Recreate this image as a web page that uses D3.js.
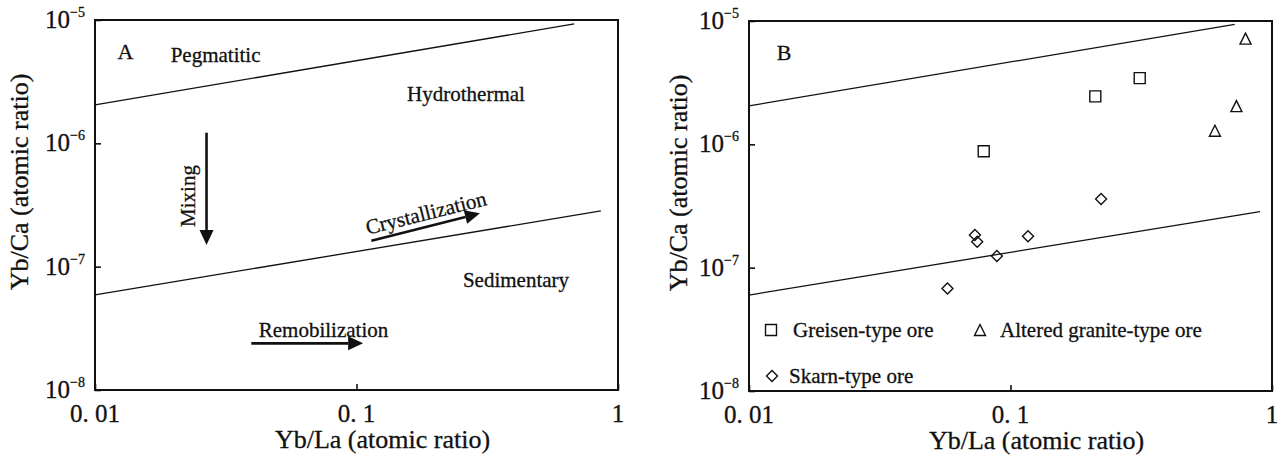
<!DOCTYPE html>
<html>
<head>
<meta charset="utf-8">
<script src="https://cdn.jsdelivr.net/npm/d3@7/dist/d3.min.js"></script>
<style>
  html, body { margin: 0; padding: 0; background: #fff; }
  svg { display: block; }
  text { font-family: "Liberation Serif", "Times New Roman", serif; fill: #111; stroke: #111; stroke-width: 0.3; }
</style>
</head>
<body>
<svg id="chart" width="1285" height="457"></svg>
<script>
// Axis ticks (log scales)
const xTickValues = [0.01, 0.1, 1];
const xTickLabels = ["0. 01", "0. 1", "1"];
const yTickValues = [1e-8, 1e-7, 1e-6, 1e-5];
const yTickExponents = ["\u22128", "\u22127", "\u22126", "\u22125"];

const xTitle = "Yb/La (atomic ratio)";
const yTitle = "Yb/Ca (atomic ratio)";

// Field boundaries (Yb/La, Yb/Ca)
const upperLineA = [[0.01, 2.05e-6], [0.68, 9.3e-6]];
const lowerLineA = [[0.01, 5.9e-8], [0.86, 2.83e-7]];
const upperLineB = [[0.01, 2.05e-6], [0.72, 9.4e-6]];
const lowerLineB = [[0.01, 6.0e-8], [0.90, 2.85e-7]];

// Process arrows in panel A: [start, end]
const mixingArrow = [[0.0267, 1.22e-6], [0.0267, 1.5e-7]];
const crystallizationArrow = [[0.114, 1.62e-7], [0.2966, 2.71e-7]];
const remobilizationArrow = [[0.0396, 2.39e-8], [0.106, 2.39e-8]];

// Samples in panel B
const greisenX = [0.079, 0.211, 0.312];
const greisenY = [8.8e-7, 2.45e-6, 3.44e-6];
const alteredX = [0.605, 0.731, 0.792];
const alteredY = [1.29e-6, 2.04e-6, 7.19e-6];
const skarnX = [0.0574, 0.0731, 0.0746, 0.0887, 0.1167, 0.222];
const skarnY = [6.78e-8, 1.84e-7, 1.62e-7, 1.245e-7, 1.795e-7, 3.6e-7];

const legendLabels = ["Greisen-type ore", "Altered granite-type ore", "Skarn-type ore"];

const svg = d3.select("#chart");
svg.append("rect").attr("width", 1285).attr("height", 457).attr("fill", "#fff");

const W = 523, H = 370;

function markerPath(kind, s) {
  const h = s / 2;
  if (kind === "square") return `M${-h},${-h}H${h}V${h}H${-h}Z`;
  if (kind === "triangle") return `M0,${-h}L${h},${h}L${-h},${h}Z`;
  return `M0,${-h}L${h},0L0,${h}L${-h},0Z`; // diamond
}

function drawPanel(ox, oy, opts) {
  const g = svg.append("g").attr("transform", `translate(${ox},${oy})`);
  const x = d3.scaleLog().domain([0.01, 1]).range([0, W]);
  const y = d3.scaleLog().domain([1e-8, 1e-5]).range([H, 0]);

  // inward ticks
  const xAxis = d3.axisBottom(x).tickValues(xTickValues).tickSize(-6).tickFormat("");
  const yAxis = d3.axisLeft(y).tickValues(yTickValues).tickSize(-6).tickFormat("");
  g.append("g").attr("transform", `translate(0,${H})`).call(xAxis)
    .call(a => a.select(".domain").remove())
    .call(a => a.selectAll("line").attr("stroke", "#111").attr("stroke-width", 1.6));
  g.append("g").call(yAxis)
    .call(a => a.select(".domain").remove())
    .call(a => a.selectAll("line").attr("stroke", "#111").attr("stroke-width", 1.6));

  // frame
  g.append("rect").attr("x", 0).attr("y", 0).attr("width", W).attr("height", H)
    .attr("fill", "none").attr("stroke", "#111").attr("stroke-width", 2);

  // x tick labels
  g.selectAll(".xl").data(xTickValues).enter().append("text")
    .attr("x", d => x(d)).attr("y", H + 32)
    .attr("text-anchor", "middle").attr("font-size", 25)
    .text((d, i) => xTickLabels[i]);

  // y tick labels 10^n
  yTickValues.forEach((d, i) => {
    const t = g.append("text").attr("x", -10).attr("y", y(d) + 8)
      .attr("text-anchor", "end").attr("font-size", 25);
    t.append("tspan").text("10");
    t.append("tspan").attr("font-size", 14).attr("dy", -11).text(yTickExponents[i]);
  });

  // axis titles
  g.append("text").attr("x", x(0.1) + 26).attr("y", H + 58)
    .attr("text-anchor", "middle").attr("font-size", 26).text(xTitle);
  g.append("text")
    .attr("transform", `translate(${opts.yTitleX},162) rotate(-90)`)
    .attr("text-anchor", "middle").attr("dominant-baseline", "central")
    .attr("font-size", 26).text(yTitle);

  // boundaries
  const line = d3.line().x(d => x(d[0])).y(d => y(d[1]));
  [opts.upper, opts.lower].forEach(l => {
    g.append("path").attr("d", line(l)).attr("fill", "none")
      .attr("stroke", "#111").attr("stroke-width", 1.3);
  });

  // panel letter
  g.append("text").attr("x", opts.letterX).attr("y", 31).attr("text-anchor", "middle")
    .attr("dominant-baseline", "central").attr("font-size", 22).text(opts.letter);

  return { g, x, y };
}

// ---------- Panel A ----------
const A = drawPanel(95, 20, { upper: upperLineA, lower: lowerLineA, letter: "A", letterX: 30.5, yTitleX: -76 });

function arrow(p, pts) {
  const [s, e] = pts.map(d => [p.x(d[0]), p.y(d[1])]);
  const ang = Math.atan2(e[1] - s[1], e[0] - s[0]);
  const L = 15, Wd = 7;
  const bx = e[0] - L * Math.cos(ang), by = e[1] - L * Math.sin(ang);
  p.g.append("line").attr("x1", s[0]).attr("y1", s[1]).attr("x2", bx).attr("y2", by)
    .attr("stroke", "#111").attr("stroke-width", 2.6);
  const nx = -Math.sin(ang) * Wd, ny = Math.cos(ang) * Wd;
  p.g.append("path")
    .attr("d", `M${e[0]},${e[1]}L${bx + nx},${by + ny}L${bx - nx},${by - ny}Z`)
    .attr("fill", "#111");
}
arrow(A, mixingArrow);
arrow(A, crystallizationArrow);
arrow(A, remobilizationArrow);

const labelsA = [
  { t: "Pegmatitic", x: 120.6, y: 35, r: 0 },
  { t: "Hydrothermal", x: 371, y: 74, r: 0 },
  { t: "Mixing", x: 93, y: 176, r: -90 },
  { t: "Crystallization", x: 331, y: 193, r: -14 },
  { t: "Sedimentary", x: 421, y: 260, r: 0 },
  { t: "Remobilization", x: 228.5, y: 310, r: 0 }
];
labelsA.forEach(l => {
  A.g.append("text")
    .attr("transform", `translate(${l.x},${l.y}) rotate(${l.r})`)
    .attr("text-anchor", "middle").attr("dominant-baseline", "central")
    .attr("font-size", 21).text(l.t);
});

// ---------- Panel B ----------
const B = drawPanel(749, 21, { upper: upperLineB, lower: lowerLineB, letter: "B", letterX: 35, yTitleX: -71 });

function drawSeries(xs, ys, kind, size) {
  B.g.selectAll(null).data(xs).enter().append("path")
    .attr("transform", (d, i) => `translate(${B.x(d)},${B.y(ys[i])})`)
    .attr("d", markerPath(kind, size))
    .attr("fill", "none").attr("stroke", "#111").attr("stroke-width", 1.4);
}
drawSeries(greisenX, greisenY, "square", 11);
drawSeries(alteredX, alteredY, "triangle", 11);
drawSeries(skarnX, skarnY, "diamond", 11);

// legend
const legendItems = [
  { kind: "square", mx: 22, tx: 44, y: 309, size: 11 },
  { kind: "triangle", mx: 231, tx: 251, y: 309, size: 11 },
  { kind: "diamond", mx: 23, tx: 40, y: 355, size: 11 }
];
legendItems.forEach((it, i) => {
  B.g.append("path").attr("transform", `translate(${it.mx},${it.y})`)
    .attr("d", markerPath(it.kind, it.size))
    .attr("fill", "none").attr("stroke", "#111").attr("stroke-width", 1.4);
  B.g.append("text").attr("x", it.tx).attr("y", it.y)
    .attr("dominant-baseline", "central").attr("font-size", 21).text(legendLabels[i]);
});
</script>
</body>
</html>
